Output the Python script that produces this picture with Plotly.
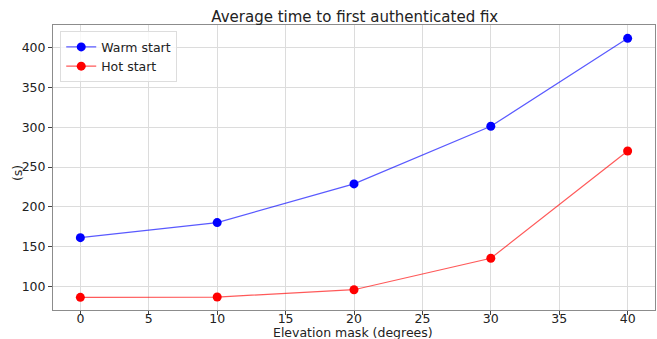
import plotly.graph_objects as go

elevation = [0, 10, 20, 30, 40]
warm_start = [161.2, 180.1, 228.8, 301.3, 411.8]
hot_start = [86.1, 86.5, 95.7, 135.3, 270.2]

fig = go.Figure()
fig.add_trace(go.Scatter(x=elevation, y=warm_start, mode="lines+markers", name="Warm start",
                         line=dict(color="rgba(0,0,255,0.65)", width=1.2),
                         marker=dict(color="blue", size=9)))
fig.add_trace(go.Scatter(x=elevation, y=hot_start, mode="lines+markers", name="Hot start",
                         line=dict(color="rgba(255,0,0,0.65)", width=1.2),
                         marker=dict(color="red", size=9)))

axis_common = dict(showgrid=True, gridcolor="#dcdcdc", gridwidth=1,
                   showline=True, linecolor="#8c8c8c", linewidth=1, mirror=True,
                   ticks="outside", ticklen=4, tickcolor="#444", zeroline=False,
                   automargin=False, tickfont=dict(size=12.5, color="#222"))

fig.update_layout(
    width=657, height=339,
    margin=dict(l=53, r=2, t=25, b=29),
    paper_bgcolor="white", plot_bgcolor="white",
    font=dict(family="DejaVu Sans", color="#222"),
    title=dict(text="Average time to first authenticated fix", x=0.54, xanchor="center",
               y=1 - 17 / 339, yanchor="middle", font=dict(size=15, color="#222")),
    xaxis=dict(range=[-2, 42], tickvals=[0, 5, 10, 15, 20, 25, 30, 35, 40],
               ticklabelstandoff=-7, **axis_common),
    yaxis=dict(range=[70.2, 428.6], tickvals=[100, 150, 200, 250, 300, 350, 400], **axis_common),
    legend=dict(x=0.012, y=0.978, xanchor="left", yanchor="top",
                bgcolor="rgba(255,255,255,0.8)", bordercolor="#dddddd", borderwidth=1,
                font=dict(size=12.5, color="#222"), tracegroupgap=0),
    showlegend=True,
    annotations=[
        dict(text="Elevation mask (degrees)", xref="paper", yref="paper", x=0.498, y=-0.079,
             xanchor="center", yanchor="middle", showarrow=False, font=dict(size=12.5, color="#222")),
        dict(text="(s)", xref="paper", yref="paper", x=-0.06, y=0.48, textangle=-90,
             xanchor="center", yanchor="middle", showarrow=False, font=dict(size=12.5, color="#222")),
    ],
)

fig.write_html("out.html", config={"displayModeBar": False},
               post_script="document.body.style.margin='0';document.body.style.overflow='hidden';")
